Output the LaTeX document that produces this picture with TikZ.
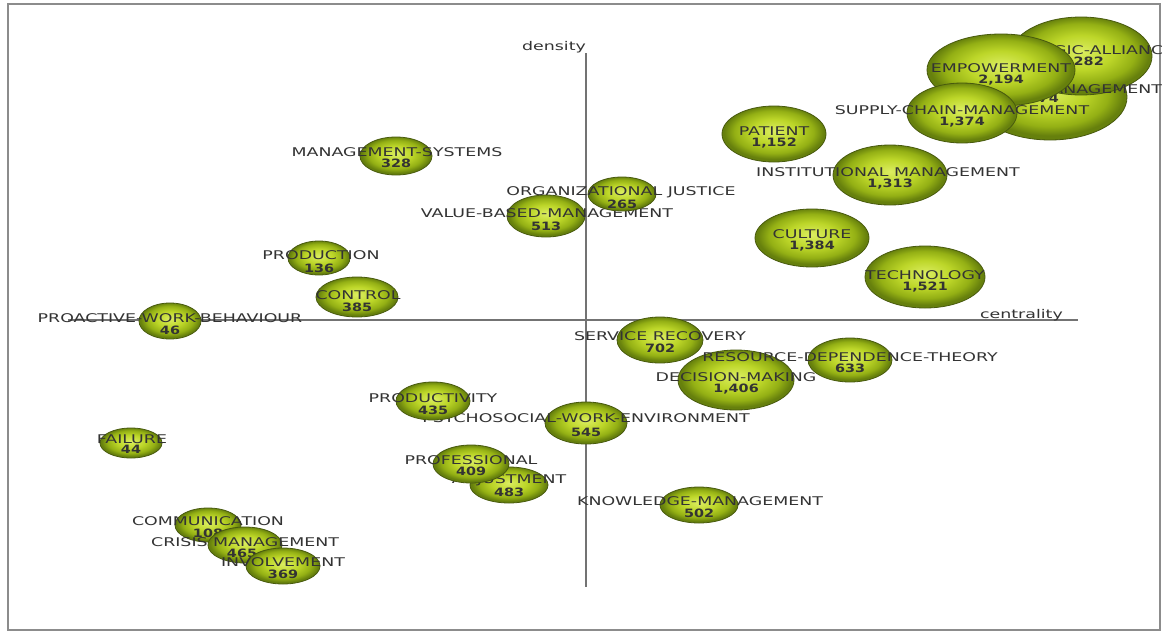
\documentclass[tikz,border=0pt]{standalone}
\usepackage{fontspec}
\usetikzlibrary{shapes.geometric}
\newfontfamily\kwfont[FakeStretch=1.45]{DejaVu Sans}
\newfontfamily\freqfont[FakeStretch=1.25]{DejaVu Sans Bold}
\pgfdeclareradialshading{bubshade}{\pgfpoint{0bp}{3bp}}{%
	rgb(0bp)=(.86,.93,.38);
	rgb(11bp)=(.74,.84,.16);
	rgb(19bp)=(.58,.69,.08);
	rgb(24bp)=(.40,.50,.05);
	rgb(50bp)=(.40,.50,.05)}
\definecolor{bubedge}{RGB}{72,90,14}
\begin{document}
\begin{tikzpicture}[x=1pt,y=-1pt,
	bubble/.style={ellipse,draw=bubedge,line width=.8pt,shading=bubshade,inner sep=0pt},
	kw/.style={font=\kwfont\fontsize{12}{12}\selectfont,text=black!80,inner sep=0pt},
	freq/.style={font=\freqfont\fontsize{11.5}{12}\selectfont,text=black!80,inner sep=0pt},
	axis/.style={draw=black!55,line width=1.2pt}]
	\useasboundingbox[fill=white] (0,0) rectangle (1162,632);
	\draw[black!45,line width=1.3pt] (8,4) rectangle (1160,630);
	% axes
	\coordinate (west) at (68,320);
	\coordinate (east) at (1078,320);
	\coordinate (north) at (586,53);
	\coordinate (south) at (586,587);
	\draw[axis] (west) -- (east);
	\draw[axis] (north) -- (south);
	\node[kw] (density) at (554,47) {density};
	\node[kw,anchor=east] (centrality) at (1063,315) {centrality};
	% upper right cluster
	\node[bubble,minimum width=154pt,minimum height=86pt] (stratman) at (1050,97) {};
	\node[bubble,minimum width=142pt,minimum height=78pt] (alliance) at (1081,56) {};
	\node[kw] (stratman-kw) at (1048,89) {STRATEGIC-MANAGEMENT};
	\node[freq] (stratman-n) at (1036,99) {1,774};
	\node[kw] (alliance-kw) at (1081,50) {STRATEGIC-ALLIANCE};
	\node[freq] (alliance-n) at (1081,62) {1,282};
	\node[bubble,minimum width=148pt,minimum height=72pt] (empower) at (1001,70) {};
	\node[kw] (empower-kw) at (1001,68) {EMPOWERMENT};
	\node[freq] (empower-n) at (1001,80) {2,194};
	\node[bubble,minimum width=110pt,minimum height=60pt] (supply) at (962,113) {};
	\node[kw] (supply-kw) at (962,110) {SUPPLY-CHAIN-MANAGEMENT};
	\node[freq] (supply-n) at (962,122) {1,374};
	% motor themes
	\node[bubble,minimum width=104pt,minimum height=56pt] (patient) at (774,134) {};
	\node[kw] (patient-kw) at (774,131) {PATIENT};
	\node[freq] (patient-n) at (774,143) {1,152};
	\node[bubble,minimum width=114pt,minimum height=60pt] (instit) at (890,175) {};
	\node[kw] (instit-kw) at (888,172) {INSTITUTIONAL MANAGEMENT};
	\node[freq] (instit-n) at (890,184) {1,313};
	\node[bubble,minimum width=114pt,minimum height=58pt] (culture) at (812,238) {};
	\node[kw] (culture-kw) at (812,234) {CULTURE};
	\node[freq] (culture-n) at (812,246) {1,384};
	\node[bubble,minimum width=120pt,minimum height=62pt] (techno) at (925,277) {};
	\node[kw] (techno-kw) at (925,275) {TECHNOLOGY};
	\node[freq] (techno-n) at (925,287) {1,521};
	% upper left
	\node[bubble,minimum width=72pt,minimum height=38pt] (mansys) at (396,156) {};
	\node[kw] (mansys-kw) at (397,152) {MANAGEMENT-SYSTEMS};
	\node[freq] (mansys-n) at (396,163) {328};
	\node[bubble,minimum width=78pt,minimum height=42pt] (valuebased) at (546,216) {};
	\node[kw] (valuebased-kw) at (547,213) {VALUE-BASED-MANAGEMENT};
	\node[freq] (valuebased-n) at (546,226) {513};
	\node[bubble,minimum width=68pt,minimum height=34pt] (justice) at (622,194) {};
	\node[kw] (justice-kw) at (621,192) {ORGANIZATIONAL JUSTICE};
	\node[freq] (justice-n) at (622,204) {265};
	\node[bubble,minimum width=62pt,minimum height=34pt] (production) at (319,258) {};
	\node[kw] (production-kw) at (321,255) {PRODUCTION};
	\node[freq] (production-n) at (319,268) {136};
	\node[bubble,minimum width=82pt,minimum height=40pt] (control) at (357,297) {};
	\node[kw] (control-kw) at (358,295) {CONTROL};
	\node[freq] (control-n) at (357,307) {385};
	\node[bubble,minimum width=62pt,minimum height=36pt] (proactive) at (170,321) {};
	\node[kw] (proactive-kw) at (170,318) {PROACTIVE-WORK-BEHAVIOUR};
	\node[freq] (proactive-n) at (170,330) {46};
	% lower right
	\node[bubble,minimum width=86pt,minimum height=46pt] (service) at (660,340) {};
	\node[kw] (service-kw) at (660,336) {SERVICE RECOVERY};
	\node[freq] (service-n) at (660,348) {702};
	\node[bubble,minimum width=116pt,minimum height=60pt] (decision) at (736,380) {};
	\node[kw] (decision-kw) at (736,377) {DECISION-MAKING};
	\node[freq] (decision-n) at (736,389) {1,406};
	\node[bubble,minimum width=84pt,minimum height=44pt] (resource) at (850,360) {};
	\node[kw] (resource-kw) at (850,357) {RESOURCE-DEPENDENCE-THEORY};
	\node[freq] (resource-n) at (850,368) {633};
	\node[bubble,minimum width=82pt,minimum height=42pt] (psycho) at (586,423) {};
	\node[kw] (psycho-kw) at (586,418) {PSYCHOSOCIAL-WORK-ENVIRONMENT};
	\node[freq] (psycho-n) at (586,432) {545};
	\node[bubble,minimum width=78pt,minimum height=36pt] (knowledge) at (699,505) {};
	\node[kw] (knowledge-kw) at (700,501) {KNOWLEDGE-MANAGEMENT};
	\node[freq] (knowledge-n) at (699,513) {502};
	% lower left
	\node[bubble,minimum width=74pt,minimum height=38pt] (productivity) at (433,401) {};
	\node[kw] (productivity-kw) at (433,398) {PRODUCTIVITY};
	\node[freq] (productivity-n) at (433,410) {435};
	\node[bubble,minimum width=78pt,minimum height=36pt] (adjust) at (509,485) {};
	\node[kw] (adjust-kw) at (509,480) {ADJUSTMENT};
	\node[freq] (adjust-n) at (509,492) {483};
	\node[bubble,minimum width=76pt,minimum height=38pt] (professional) at (471,464) {};
	\node[kw] (professional-kw) at (471,460) {PROFESSIONAL};
	\node[freq] (professional-n) at (471,471) {409};
	\node[bubble,minimum width=62pt,minimum height=30pt] (failure) at (131,443) {};
	\node[kw] (failure-kw) at (132,439) {FAILURE};
	\node[freq] (failure-n) at (131,449) {44};
	\node[bubble,minimum width=66pt,minimum height=34pt] (communic) at (208,525) {};
	\node[kw] (communic-kw) at (208,521) {COMMUNICATION};
	\node[freq] (communic-n) at (208,533) {108};
	\node[bubble,minimum width=74pt,minimum height=36pt] (crisis) at (245,545) {};
	\node[kw] (crisis-kw) at (245,542) {CRISIS MANAGEMENT};
	\node[freq] (crisis-n) at (242,553) {465};
	\node[bubble,minimum width=74pt,minimum height=36pt] (involve) at (283,566) {};
	\node[kw] (involve-kw) at (283,562) {INVOLVEMENT};
	\node[freq] (involve-n) at (283,574) {369};
\end{tikzpicture}
\end{document}
